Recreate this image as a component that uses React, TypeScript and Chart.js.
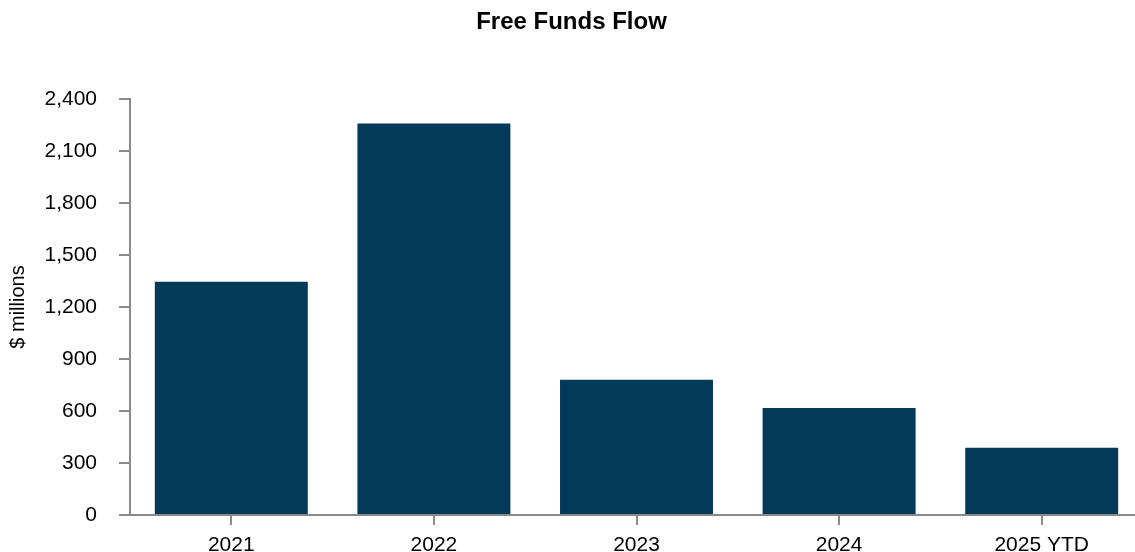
import React, { useEffect, useRef } from "react";
import { Chart, registerables } from "chart.js";

Chart.register(...registerables);

const categories = ["2021", "2022", "2023", "2024", "2025 YTD"];
const freeFundsFlow = [1346, 2258, 780, 618, 388];
const yTicks = [0, 300, 600, 900, 1200, 1500, 1800, 2100, 2400];

const FONT = "'Liberation Sans', Arial, Helvetica, sans-serif";
const AXIS_COLOR = "#8a8a8a";
const BAR_COLOR = "#033A5A";

export default function App() {
  const ref = useRef<HTMLCanvasElement | null>(null);

  useEffect(() => {
    if (!ref.current) return;
    const chart = new Chart(ref.current, {
      type: "bar",
      data: {
        labels: categories,
        datasets: [
          {
            label: "Free Funds Flow",
            data: freeFundsFlow,
            backgroundColor: BAR_COLOR,
            borderWidth: 0,
            barPercentage: 0.755,
            categoryPercentage: 1,
          },
        ],
      },
      options: {
        responsive: false,
        animation: false,
        devicePixelRatio: 1,
        layout: { padding: { left: 0, right: 2, top: 0, bottom: 0 } },
        plugins: {
          legend: { display: false },
          tooltip: { enabled: false },
          title: {
            display: true,
            text: "Free Funds Flow",
            color: "#000",
            font: { family: FONT, size: 24, weight: "bold" },
            padding: { top: 8, bottom: 62.2 },
          },
        },
        scales: {
          x: {
            offset: true,
            grid: {
              display: true,
              offset: false,
              drawOnChartArea: false,
              drawTicks: true,
              tickLength: 10,
              color: AXIS_COLOR,
              lineWidth: 2,
            },
            border: { display: true, color: AXIS_COLOR, width: 2 },
            ticks: {
              color: "#000",
              font: { family: FONT, size: 21 },
              padding: 8,
              maxRotation: 0,
              autoSkip: false,
            },
            afterFit: (scale: any) => {
              scale.height = 37;
            },
          },
          y: {
            min: 0,
            max: 2400,
            afterBuildTicks: (scale: any) => {
              scale.ticks = yTicks.map((v) => ({ value: v }));
            },
            grid: {
              display: true,
              drawOnChartArea: false,
              drawTicks: true,
              tickLength: 11,
              color: AXIS_COLOR,
              lineWidth: 2,
            },
            border: { display: true, color: AXIS_COLOR, width: 2 },
            ticks: {
              color: "#000",
              font: { family: FONT, size: 21 },
              padding: 22,
              callback: (v: any) => Number(v).toLocaleString("en-US"),
            },
            title: {
              display: true,
              text: "$ millions",
              color: "#000",
              font: { family: FONT, size: 20 },
              padding: { top: 6, bottom: 0 },
            },
            afterFit: (scale: any) => {
              scale.width = 130;
            },
          },
        },
      },
    });
    return () => chart.destroy();
  }, []);

  return (
    <div
      style={{
        position: "fixed",
        left: 0,
        top: 0,
        width: 1135,
        height: 552,
        overflow: "hidden",
        background: "#fff",
      }}
    >
      <canvas ref={ref} width={1145} height={552} style={{ display: "block" }} />
    </div>
  );
}
